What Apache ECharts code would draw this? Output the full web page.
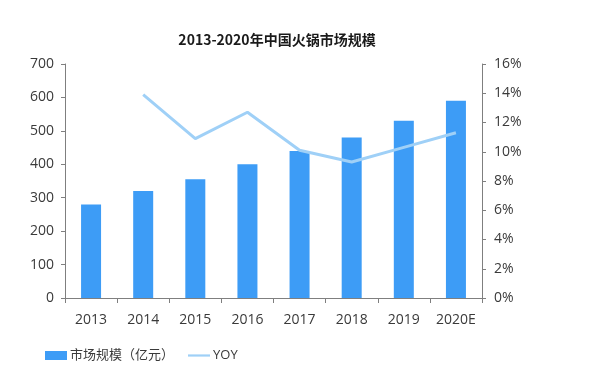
<!DOCTYPE html>
<html><head><meta charset="utf-8">
<script src="https://cdn.jsdelivr.net/npm/echarts@6/dist/echarts.min.js"></script>
<style>html,body{margin:0;padding:0;background:#fff}#c{width:600px;height:371px}</style>
</head><body><div id="c"></div>
<script>
const categories = ['2013','2014','2015','2016','2017','2018','2019','2020E'];
const marketSize = [280, 320, 355, 400, 440, 480, 530, 590];
const yoy = [null, 13.9, 10.9, 12.7, 10.1, 9.3, 10.3, 11.3];
const leftTicks = [0,100,200,300,400,500,600,700];
const rightTicks = [0,2,4,6,8,10,12,14,16];

const chart = echarts.init(document.getElementById('c'), null, {renderer:'canvas'});
const axisColor = '#7f7f7f';
const labelColor = '#3a3a3a';
const font = '"Open Sans","Noto Sans CJK SC",sans-serif';
chart.setOption({
  animation:false,
  title:{text:'2013-2020年中国火锅市场规模', left:272, top:28, textAlign:'center',
    textStyle:{fontSize:14, fontWeight:'bold', color:'#1a1a1a', fontFamily:'"Noto Sans CJK SC",sans-serif'}},
  legend:{left:40, top:344, itemGap:14, itemWidth:22, itemHeight:9,
    textStyle:{fontSize:13, color:labelColor, fontFamily:font, padding:[0,0,0,-2]},
    data:[{name:'市场规模（亿元）', icon:'rect'},{name:'YOY', icon:'path://M0,4L20,4L20,6L0,6Z'}]},
  grid:{left:65, right:118, top:64, bottom:73, containLabel:false},
  xAxis:{type:'category', data:categories,
    axisLine:{lineStyle:{color:axisColor, width:1}},
    axisTick:{show:true, length:5, lineStyle:{color:axisColor}},
    axisLabel:{fontSize:14, color:labelColor, margin:15, fontFamily:font}},
  yAxis:[
    {type:'value', min:leftTicks[0], max:leftTicks[leftTicks.length-1], interval:100,
     axisLine:{show:true, lineStyle:{color:axisColor}},
     axisTick:{show:true, length:4, lineStyle:{color:axisColor}},
     splitLine:{show:false},
     axisLabel:{fontSize:14, color:labelColor, margin:11, fontFamily:font}},
    {type:'value', min:rightTicks[0], max:rightTicks[rightTicks.length-1], interval:2,
     position:'right',
     axisLine:{show:true, lineStyle:{color:axisColor}},
     axisTick:{show:true, length:4, lineStyle:{color:axisColor}},
     splitLine:{show:false},
     axisLabel:{fontSize:14, color:labelColor, margin:12, formatter:'{value}%', fontFamily:font}}
  ],
  series:[
    {name:'市场规模（亿元）', type:'bar', data:marketSize, barWidth:20,
     itemStyle:{color:'#3d9cf6'}},
    {name:'YOY', type:'line', yAxisIndex:1, data:yoy, symbol:'none',
     lineStyle:{color:'#9fd0f7', width:3}, itemStyle:{color:'#9fd0f7'}}
  ]
});
</script></body></html>
